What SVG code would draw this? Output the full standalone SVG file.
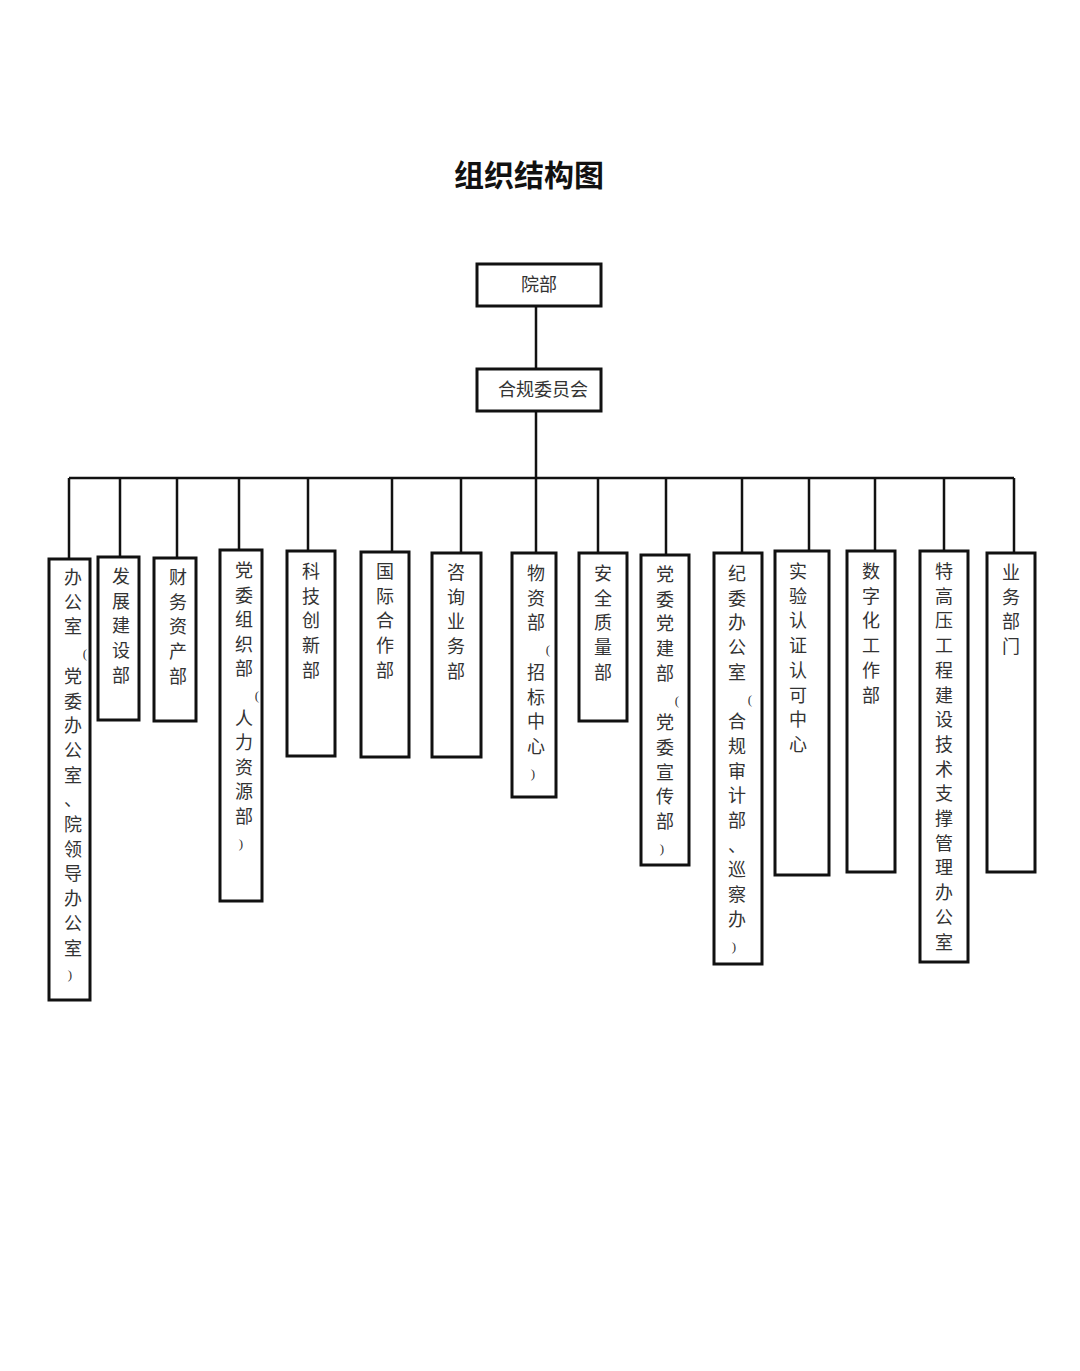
<svg xmlns="http://www.w3.org/2000/svg" width="1080" height="1371" viewBox="0 0 1080 1371">
<style>
.b{fill:#fff;stroke:#111;stroke-width:3}
.c{stroke:#111;stroke-width:2.5;fill:none}
.t{font-family:"Liberation Serif","Noto Sans CJK SC",serif;font-size:18px;fill:#333;text-anchor:middle}
.v{font-family:"Liberation Serif","Noto Sans CJK SC",serif;font-size:18px;fill:#333;text-anchor:middle}
.p{font-size:13px}
</style>
<rect width="1080" height="1371" fill="#fff"/>
<text x="529" y="186" style="font-family:'Noto Sans CJK SC',sans-serif;font-size:30px;font-weight:bold;text-anchor:middle;fill:#111">组织结构图</text>
<g id="connectors">
<path class="c" d="M536 306V369M536 411V478M69 478H1014M69 478V559M120 478V557M177 478V558M239 478V550M308 478V551M392 478V552M461 478V553M536 478V553M598 478V553M666 478V555M742 478V553M809 478V551M875 478V551M944 478V551M1014 478V553"/>
</g>
<g id="n-yuanbu"><rect class="b" x="477" y="264" width="124" height="42"/><text class="t" x="539" y="291">院部</text></g>
<g id="n-hegui"><rect class="b" x="477" y="369" width="124" height="42"/><text class="t" x="543" y="396">合规委员会</text></g>
<g id="n1"><rect class="b" x="49" y="559" width="41" height="441"/><text class="v" y="584"><tspan x="73">办</tspan><tspan x="73" dy="24.7">公</tspan><tspan x="73" dy="24.7">室</tspan><tspan x="85" dy="24.7" class="p">(</tspan><tspan x="73" dy="24.7">党</tspan><tspan x="73" dy="24.7">委</tspan><tspan x="73" dy="24.7">办</tspan><tspan x="73" dy="24.7">公</tspan><tspan x="73" dy="24.7">室</tspan><tspan x="73" dy="24.7">、</tspan><tspan x="73" dy="24.7">院</tspan><tspan x="73" dy="24.7">领</tspan><tspan x="73" dy="24.7">导</tspan><tspan x="73" dy="24.7">办</tspan><tspan x="73" dy="24.7">公</tspan><tspan x="73" dy="24.7">室</tspan><tspan x="70" dy="24.7" class="p">)</tspan></text></g>
<g id="n2"><rect class="b" x="98" y="557" width="41" height="163"/><text class="v" y="583"><tspan x="121">发</tspan><tspan x="121" dy="24.7">展</tspan><tspan x="121" dy="24.7">建</tspan><tspan x="121" dy="24.7">设</tspan><tspan x="121" dy="24.7">部</tspan></text></g>
<g id="n3"><rect class="b" x="154" y="558" width="42" height="163"/><text class="v" y="584"><tspan x="178">财</tspan><tspan x="178" dy="24.7">务</tspan><tspan x="178" dy="24.7">资</tspan><tspan x="178" dy="24.7">产</tspan><tspan x="178" dy="24.7">部</tspan></text></g>
<g id="n4"><rect class="b" x="220" y="550" width="42" height="351"/><text class="v" y="577"><tspan x="244">党</tspan><tspan x="244" dy="24.6">委</tspan><tspan x="244" dy="24.6">组</tspan><tspan x="244" dy="24.6">织</tspan><tspan x="244" dy="24.6">部</tspan><tspan x="257" dy="24.6" class="p">(</tspan><tspan x="244" dy="24.6">人</tspan><tspan x="244" dy="24.6">力</tspan><tspan x="244" dy="24.6">资</tspan><tspan x="244" dy="24.6">源</tspan><tspan x="244" dy="24.6">部</tspan><tspan x="241" dy="24.6" class="p">)</tspan></text></g>
<g id="n5"><rect class="b" x="287" y="551" width="48" height="205"/><text class="v" y="578"><tspan x="311">科</tspan><tspan x="311" dy="24.7">技</tspan><tspan x="311" dy="24.7">创</tspan><tspan x="311" dy="24.7">新</tspan><tspan x="311" dy="24.7">部</tspan></text></g>
<g id="n6"><rect class="b" x="361" y="552" width="48" height="205"/><text class="v" y="578"><tspan x="385">国</tspan><tspan x="385" dy="24.7">际</tspan><tspan x="385" dy="24.7">合</tspan><tspan x="385" dy="24.7">作</tspan><tspan x="385" dy="24.7">部</tspan></text></g>
<g id="n7"><rect class="b" x="432" y="553" width="49" height="204"/><text class="v" y="579"><tspan x="456">咨</tspan><tspan x="456" dy="24.7">询</tspan><tspan x="456" dy="24.7">业</tspan><tspan x="456" dy="24.7">务</tspan><tspan x="456" dy="24.7">部</tspan></text></g>
<g id="n8"><rect class="b" x="512" y="553" width="44" height="244"/><text class="v" y="580"><tspan x="536">物</tspan><tspan x="536" dy="24.7">资</tspan><tspan x="536" dy="24.7">部</tspan><tspan x="548" dy="24.7" class="p">(</tspan><tspan x="536" dy="24.7">招</tspan><tspan x="536" dy="24.7">标</tspan><tspan x="536" dy="24.7">中</tspan><tspan x="536" dy="24.7">心</tspan><tspan x="533" dy="24.7" class="p">)</tspan></text></g>
<g id="n9"><rect class="b" x="579" y="553" width="48" height="168"/><text class="v" y="580"><tspan x="603">安</tspan><tspan x="603" dy="24.7">全</tspan><tspan x="603" dy="24.7">质</tspan><tspan x="603" dy="24.7">量</tspan><tspan x="603" dy="24.7">部</tspan></text></g>
<g id="n10"><rect class="b" x="641" y="555" width="48" height="310"/><text class="v" y="581"><tspan x="665">党</tspan><tspan x="665" dy="24.7">委</tspan><tspan x="665" dy="24.7">党</tspan><tspan x="665" dy="24.7">建</tspan><tspan x="665" dy="24.7">部</tspan><tspan x="677" dy="24.7" class="p">(</tspan><tspan x="665" dy="24.7">党</tspan><tspan x="665" dy="24.7">委</tspan><tspan x="665" dy="24.7">宣</tspan><tspan x="665" dy="24.7">传</tspan><tspan x="665" dy="24.7">部</tspan><tspan x="662" dy="24.7" class="p">)</tspan></text></g>
<g id="n11"><rect class="b" x="714" y="553" width="48" height="411"/><text class="v" y="580"><tspan x="737">纪</tspan><tspan x="737" dy="24.7">委</tspan><tspan x="737" dy="24.7">办</tspan><tspan x="737" dy="24.7">公</tspan><tspan x="737" dy="24.7">室</tspan><tspan x="750" dy="24.7" class="p">(</tspan><tspan x="737" dy="24.7">合</tspan><tspan x="737" dy="24.7">规</tspan><tspan x="737" dy="24.7">审</tspan><tspan x="737" dy="24.7">计</tspan><tspan x="737" dy="24.7">部</tspan><tspan x="737" dy="24.7">、</tspan><tspan x="737" dy="24.7">巡</tspan><tspan x="737" dy="24.7">察</tspan><tspan x="737" dy="24.7">办</tspan><tspan x="734" dy="24.7" class="p">)</tspan></text></g>
<g id="n12"><rect class="b" x="775" y="551" width="54" height="324"/><text class="v" y="578"><tspan x="798">实</tspan><tspan x="798" dy="24.7">验</tspan><tspan x="798" dy="24.7">认</tspan><tspan x="798" dy="24.7">证</tspan><tspan x="798" dy="24.7">认</tspan><tspan x="798" dy="24.7">可</tspan><tspan x="798" dy="24.7">中</tspan><tspan x="798" dy="24.7">心</tspan></text></g>
<g id="n13"><rect class="b" x="847" y="551" width="48" height="321"/><text class="v" y="578"><tspan x="871">数</tspan><tspan x="871" dy="24.7">字</tspan><tspan x="871" dy="24.7">化</tspan><tspan x="871" dy="24.7">工</tspan><tspan x="871" dy="24.7">作</tspan><tspan x="871" dy="24.7">部</tspan></text></g>
<g id="n14"><rect class="b" x="920" y="551" width="48" height="411"/><text class="v" y="578"><tspan x="944">特</tspan><tspan x="944" dy="24.7">高</tspan><tspan x="944" dy="24.7">压</tspan><tspan x="944" dy="24.7">工</tspan><tspan x="944" dy="24.7">程</tspan><tspan x="944" dy="24.7">建</tspan><tspan x="944" dy="24.7">设</tspan><tspan x="944" dy="24.7">技</tspan><tspan x="944" dy="24.7">术</tspan><tspan x="944" dy="24.7">支</tspan><tspan x="944" dy="24.7">撑</tspan><tspan x="944" dy="24.7">管</tspan><tspan x="944" dy="24.7">理</tspan><tspan x="944" dy="24.7">办</tspan><tspan x="944" dy="24.7">公</tspan><tspan x="944" dy="24.7">室</tspan></text></g>
<g id="n15"><rect class="b" x="987" y="553" width="48" height="319"/><text class="v" y="579"><tspan x="1011">业</tspan><tspan x="1011" dy="24.7">务</tspan><tspan x="1011" dy="24.7">部</tspan><tspan x="1011" dy="24.7">门</tspan></text></g>
</svg>
